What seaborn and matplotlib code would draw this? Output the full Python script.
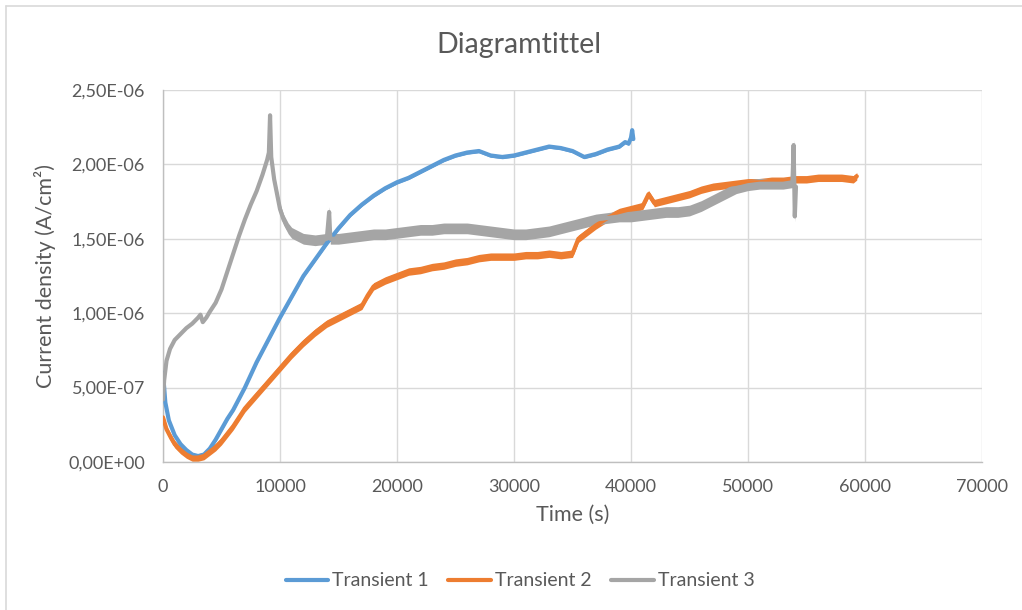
import numpy as np
import pandas as pd
import matplotlib
matplotlib.use("Agg")
import matplotlib.pyplot as plt
from matplotlib.lines import Line2D
from matplotlib.ticker import FuncFormatter, MultipleLocator
import seaborn as sns

# Transient 1: time (s) and current density (A/cm²)
t1 = [0, 200, 500, 1000, 1500, 2000, 2500, 3000, 3500, 4000, 4500, 5000, 5500,
      6000, 7000, 8000, 9000, 10000, 11000, 12000, 13000, 14000, 15000, 16000,
      17000, 18000, 19000, 20000, 21000, 22000, 23000, 24000, 25000, 26000,
      27000, 28000, 29000, 30000, 31000, 32000, 33000, 34000, 35000, 36000,
      37000, 38000, 39000, 39500, 39800, 40000, 40100, 40200]
j1 = [0.60, 0.40, 0.28, 0.18, 0.12, 0.08, 0.05, 0.04, 0.05, 0.09, 0.15, 0.22,
      0.29, 0.35, 0.50, 0.67, 0.82, 0.97, 1.11, 1.25, 1.36, 1.47, 1.57, 1.66,
      1.73, 1.79, 1.84, 1.88, 1.91, 1.95, 1.99, 2.03, 2.06, 2.08, 2.09, 2.06,
      2.05, 2.06, 2.08, 2.10, 2.12, 2.11, 2.09, 2.05, 2.07, 2.10, 2.12, 2.15,
      2.14, 2.18, 2.23, 2.17]

# Transient 2
t2 = [0, 300, 700, 1000, 1500, 2000, 2500, 3000, 3500, 4000, 4500, 5000, 6000,
      7000, 8000, 9000, 10000, 11000, 12000, 13000, 14000, 15000, 16000, 17000,
      17500, 18000, 19000, 20000, 21000, 22000, 23000, 24000, 25000, 26000,
      27000, 28000, 29000, 30000, 31000, 32000, 33000, 34000, 35000, 35500,
      36000, 37000, 38000, 39000, 40000, 41000, 41500, 42000, 43000, 44000,
      45000, 46000, 47000, 48000, 49000, 50000, 51000, 52000, 53000, 54000,
      55000, 56000, 57000, 58000, 59000, 59300]
j2 = [0.30, 0.22, 0.16, 0.12, 0.08, 0.05, 0.03, 0.03, 0.04, 0.07, 0.10, 0.14,
      0.24, 0.36, 0.45, 0.54, 0.63, 0.72, 0.80, 0.87, 0.93, 0.97, 1.01, 1.05,
      1.12, 1.18, 1.22, 1.25, 1.28, 1.29, 1.31, 1.32, 1.34, 1.35, 1.37, 1.38,
      1.38, 1.38, 1.39, 1.39, 1.40, 1.39, 1.40, 1.50, 1.53, 1.59, 1.64, 1.68,
      1.70, 1.72, 1.80, 1.74, 1.76, 1.78, 1.80, 1.83, 1.85, 1.86, 1.87, 1.88,
      1.88, 1.89, 1.89, 1.90, 1.90, 1.91, 1.91, 1.91, 1.90, 1.92]

# Transient 3
t3 = [0, 100, 300, 600, 1000, 1500, 2000, 2500, 3000, 3200, 3400, 3700, 4000,
      4500, 5000, 5500, 6000, 6500, 7000, 7500, 8000, 8500, 8900, 9050, 9150,
      9250, 9500, 9800, 10000, 10300, 10700, 11000, 12000, 13000, 14000, 14200,
      14300, 15000, 16000, 17000, 18000, 19000, 20000, 21000, 22000, 23000,
      24000, 25000, 26000, 27000, 28000, 29000, 30000, 31000, 32000, 33000,
      34000, 35000, 36000, 37000, 38000, 39000, 40000, 41000, 42000, 43000,
      44000, 45000, 46000, 47000, 48000, 49000, 50000, 51000, 52000, 53000,
      53800, 53900, 54000, 54100]
j3 = [0.42, 0.55, 0.68, 0.76, 0.82, 0.86, 0.90, 0.93, 0.97, 0.99, 0.94, 0.97,
      1.01, 1.07, 1.16, 1.28, 1.40, 1.52, 1.63, 1.73, 1.82, 1.93, 2.03, 2.08,
      2.33, 2.05, 1.90, 1.78, 1.70, 1.63, 1.57, 1.54, 1.50, 1.49, 1.50, 1.68,
      1.50, 1.50, 1.51, 1.52, 1.53, 1.53, 1.54, 1.55, 1.56, 1.56, 1.57, 1.57,
      1.57, 1.56, 1.55, 1.54, 1.53, 1.53, 1.54, 1.55, 1.57, 1.59, 1.61, 1.63,
      1.64, 1.65, 1.65, 1.66, 1.67, 1.68, 1.68, 1.69, 1.72, 1.76, 1.80, 1.84,
      1.86, 1.87, 1.87, 1.87, 1.88, 2.13, 1.65, 1.85]

# Half-width of the measurement noise band around each trace (A/cm²)
noise_1 = 0.012e-6
noise_2 = 0.025e-6
noise_3 = 0.036e-6
noise_3_start = 9500  # s, trace 3 is smooth before this

names = ["Transient 1", "Transient 2", "Transient 3"]
colors = {"Transient 1": "#5B9BD5", "Transient 2": "#ED7D31", "Transient 3": "#A5A5A5"}

frames = []
for name, t, j in zip(names, [t1, t2, t3], [j1, j2, j3]):
    frames.append(pd.DataFrame({"Time (s)": t,
                                "j": np.array(j) * 1e-6,
                                "series": name}))
df = pd.concat(frames, ignore_index=True)

sns.set_theme(style="white")
plt.rcParams["font.family"] = ["Lato", "DejaVu Sans"]
text_color = "#595959"

fig = plt.figure(figsize=(10.22, 6.10), dpi=100)
ax = fig.add_axes([163 / 1022, 1 - 462 / 610, (982 - 163) / 1022, (462 - 90) / 610])

# noise bands
bands = {"Transient 1": (noise_1, 0), "Transient 2": (noise_2, 0),
         "Transient 3": (noise_3, noise_3_start)}
for name in names:
    sub = df[df["series"] == name]
    hw, start = bands[name]
    tt = sub["Time (s)"].to_numpy()
    jj = sub["j"].to_numpy()
    ax.fill_between(tt, jj - hw, jj + hw, where=tt >= start,
                    color=colors[name], linewidth=0, zorder=2)

sns.lineplot(data=df, x="Time (s)", y="j", hue="series", palette=colors,
             estimator=None, sort=False, linewidth=3.0, legend=False, ax=ax,
             zorder=3)

ax.set_xlim(0, 70000)
ax.set_ylim(0, 2.5e-6)
ax.xaxis.set_major_locator(MultipleLocator(10000))
ax.yaxis.set_major_locator(MultipleLocator(0.5e-6))
ax.yaxis.set_major_formatter(FuncFormatter(lambda v, p: f"{v:.2E}".replace(".", ",")))
ax.xaxis.set_major_formatter(FuncFormatter(lambda v, p: f"{int(round(v))}"))

ax.grid(True, color="#D9D9D9", linewidth=1.0)
ax.set_axisbelow(True)
for s in ["top", "right"]:
    ax.spines[s].set_visible(False)
for s in ["left", "bottom"]:
    ax.spines[s].set_color("#BFBFBF")
    ax.spines[s].set_linewidth(1.0)
ax.tick_params(axis="both", length=0, labelsize=13, labelcolor=text_color)
ax.tick_params(axis="y", pad=13)
ax.tick_params(axis="x", pad=12)

ax.set_xlabel("Time (s)", fontsize=15.5, color=text_color, labelpad=7)
ax.set_ylabel("Current density (A/cm²)", fontsize=15.5, color=text_color, labelpad=9)
fig.text(519 / 1022, 1 - 45 / 610, "Diagramtittel", fontsize=20.5,
         color=text_color, ha="center", va="center")

handles = [Line2D([0], [0], color=colors[n], linewidth=3.0) for n in names]
fig.legend(handles, names, loc="center", bbox_to_anchor=(520 / 1022, 1 - 581 / 610),
           ncol=3, frameon=False, fontsize=14, handlelength=2.2,
           handletextpad=0.2, columnspacing=1.0, labelcolor=text_color)

# chart area border (top and left edges)
fig.add_artist(Line2D([6 / 1022, 1], [1 - 6 / 610, 1 - 6 / 610],
                      transform=fig.transFigure, color="#D9D9D9", linewidth=1.2))
fig.add_artist(Line2D([6 / 1022, 6 / 1022], [0, 1 - 6 / 610],
                      transform=fig.transFigure, color="#D9D9D9", linewidth=1.2))

fig.savefig("out.png", dpi=100, facecolor="white")
